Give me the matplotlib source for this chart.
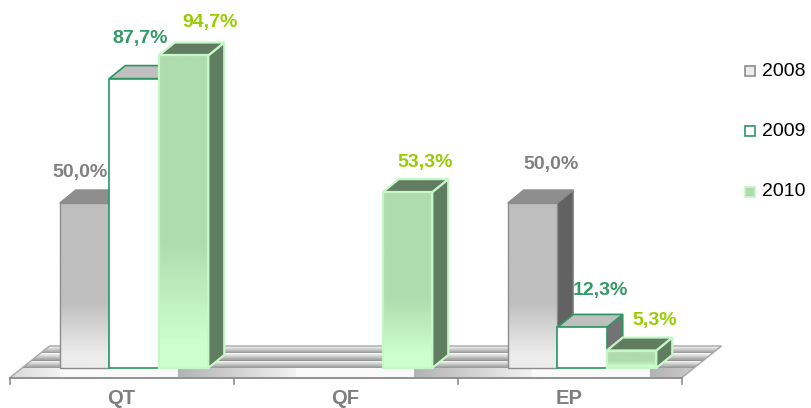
import numpy as np
import matplotlib
matplotlib.use("Agg")
import matplotlib.pyplot as plt
from matplotlib.patches import Polygon, Rectangle
from matplotlib.colors import to_rgb

categories = ["QT", "QF", "EP"]
years = ["2008", "2009", "2010"]
v2008 = [50.0, 0.0, 50.0]
v2009 = [87.7, 0.0, 12.3]
v2010 = [94.7, 53.3, 5.3]
series = [v2008, v2009, v2010]

# label nudges in pixels (dx from bar centre, dy above bar top)
label_nudge = [
    [(-5, 30), None, (18, 38)],
    [(6, 40), None, (18, 37)],
    [(27, 33), (18, 30), (23, 30)],
]

# per-series styling
front_top = ["#bfbfbf", "#ffffff", "#afdcaf"]
front_bot = ["#ececec", "#ffffff", "#ccffcc"]
top_col = ["#8e8e8e", "#bfbfbf", "#627c62"]
side_col = ["#626262", "#737373", "#617d61"]
edge_col = ["#8c8c8c", "#2e9563", "#c6f7c6"]
edge_lw = [1.0, 1.2, 1.6]
label_col = ["#808080", "#339966", "#99cc00"]

plt.rcParams["font.family"] = ["Liberation Sans", "DejaVu Sans"]

W, H = 811, 408
fig = plt.figure(figsize=(W / 100, H / 100), dpi=100)
ax = fig.add_axes([0, 0, 1, 1])
ax.axis("off")

# pixel -> data scale: one category = 224 px, 100 % = 330 px
PX = 1 / 224
PY = 100 / 330
XLIM = (-134 * PX, (W - 134) * PX)
YLIM = (-(H - 368) * PY, 368 * PY)

bar_w = 49.5 * PX
depth = (16 * PX, 13 * PY)
set_back = (12.5 * PX, 10 * PY)
floor_depth = (40 * PX, 32 * PY)


def gradient_fill(verts, stops, z, edge="none", lw=1.0):
    verts = np.asarray(verts)
    poly = Polygon(verts, closed=True, facecolor="none", edgecolor=edge,
                   lw=lw, zorder=z + 0.1, joinstyle="miter")
    ax.add_patch(poly)
    x0, y0 = verts.min(axis=0)
    x1, y1 = verts.max(axis=0)
    t = np.linspace(0, 1, 200)
    pos = [s[0] for s in stops]
    cols = np.array([to_rgb(s[1]) for s in stops])
    arr = np.stack([np.interp(t, pos, cols[:, c]) for c in range(3)], axis=-1)
    arr = arr[:, None, :]
    im = ax.imshow(arr, extent=(x0, x1, y0, y1), origin="lower",
                   aspect="auto", zorder=z, interpolation="bilinear")
    im.set_clip_path(poly)
    return poly


# floor
fx0 = -0.5 - set_back[0]
fx1 = 2.5 - set_back[0]
fy0 = -set_back[1]
floor = np.array([[fx0, fy0], [fx1, fy0],
                  [fx1 + floor_depth[0], fy0 + floor_depth[1]],
                  [fx0 + floor_depth[0], fy0 + floor_depth[1]]])
floor_poly = Polygon(floor, closed=True, facecolor="none",
                     edgecolor="#a6a6a6", lw=1.0, zorder=1.1)
ax.add_patch(floor_poly)

rows = np.arange(346, 378) + 0.5
cols_px = np.arange(8, 722) + 0.5
tex = np.zeros((len(rows), len(cols_px)))
for r, yy in enumerate(rows):
    if yy < 368:
        frac = ((yy - 346) % (22 / 3)) / (22 / 3)
        tex[r, :] = 0.98 - 0.4 * frac
    else:
        phase = ((cols_px - 59) % 236) / 118
        tex[r, :] = np.where(phase < 1, 0.98, 0.7 + 0.25 * (phase - 1))
tex = np.repeat(tex[:, :, None], 3, axis=2)
im = ax.imshow(tex, extent=(cols_px[0] * PX - 134 * PX, cols_px[-1] * PX - 134 * PX,
                            (368 - 378) * PY, (368 - 346) * PY),
               origin="upper", aspect="auto", zorder=1, interpolation="bilinear")
im.set_clip_path(floor_poly)

# category axis: front floor edge with ticks
ax.plot([fx0, fx1], [fy0, fy0], color="#8c8c8c", lw=1.2, zorder=1.2)
for b in range(len(categories) + 1):
    xb = -0.5 + b - set_back[0]
    ax.plot([xb, xb], [fy0, fy0 - 6 * PY], color="#8c8c8c", lw=1.2, zorder=1.2)
for i, cat in enumerate(categories):
    ax.text(i - set_back[0], fy0 - 20 * PY, cat, ha="center", va="center",
            fontsize=14.5, fontweight="bold", color="#7f7f7f")

# bars
z = 2
for i in range(len(categories)):
    for k, vals in enumerate(series):
        v = vals[i]
        if v <= 0:
            continue
        cx = i + (k - 1) * bar_w
        xl, xr = cx - bar_w / 2, cx + bar_w / 2
        dx, dy = depth
        front = [[xl, 0], [xr, 0], [xr, v], [xl, v]]
        top = [[xl, v], [xr, v], [xr + dx, v + dy], [xl + dx, v + dy]]
        side = [[xr, 0], [xr + dx, dy], [xr + dx, v + dy], [xr, v]]
        ax.add_patch(Polygon(side, closed=True, facecolor=side_col[k],
                             edgecolor=edge_col[k], lw=edge_lw[k], zorder=z))
        ax.add_patch(Polygon(top, closed=True, facecolor=top_col[k],
                             edgecolor=edge_col[k], lw=edge_lw[k], zorder=z))
        gradient_fill(front, [(0, front_bot[k]), (0.08, front_bot[k]),
                              (0.4, front_top[k]), (1, front_top[k])],
                      z + 0.2, edge=edge_col[k], lw=edge_lw[k])
        ndx, ndy = label_nudge[k][i]
        ax.text(cx + ndx * PX, v + ndy * PY, f"{v:.1f}".replace(".", ",") + "%",
                ha="center", va="center", fontsize=14, fontweight="bold",
                color=label_col[k], zorder=20)
        z += 1

# legend
leg_y = [71, 131, 192]
for k, yr in enumerate(years):
    yc = leg_y[k]
    fig.patches.append(Rectangle(((745) / W, 1 - (yc + 5) / H), 10 / W, 10 / H,
                                 transform=fig.transFigure,
                                 facecolor=front_bot[k] if k != 2 else front_top[k],
                                 edgecolor=edge_col[k], lw=1.2))
    fig.text(762 / W, 1 - yc / H, yr, ha="left", va="center",
             fontsize=14, color="black")

ax.set_xlim(*XLIM)
ax.set_ylim(*YLIM)
fig.savefig("out.png", dpi=100)
